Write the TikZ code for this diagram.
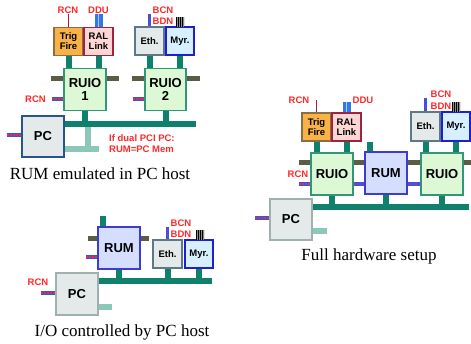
\documentclass[tikz,border=0pt]{standalone}
\usepackage{fontspec}
\setmainfont{Liberation Serif}
\newfontfamily\lsans{Liberation Sans}
\usetikzlibrary{shadows}
\pgfdeclarelayer{bg}
\pgfsetlayers{bg,main}
\definecolor{busc}{RGB}{14,128,108}
\definecolor{oliv}{RGB}{92,92,68}
\definecolor{labred}{RGB}{255,40,40}
\definecolor{darkred}{RGB}{170,30,45}
\definecolor{serblue}{RGB}{45,85,240}
\definecolor{ddublue}{RGB}{50,120,235}
\definecolor{fadec}{RGB}{140,200,185}
\definecolor{ruiofill}{RGB}{220,248,212}
\definecolor{ruiodraw}{RGB}{50,150,120}
\definecolor{trigfill}{RGB}{248,178,70}
\definecolor{trigdraw}{RGB}{140,110,70}
\definecolor{ralfill}{RGB}{255,214,214}
\definecolor{raldraw}{RGB}{160,35,60}
\definecolor{ethfill}{RGB}{228,234,234}
\definecolor{ethdraw}{RGB}{95,120,135}
\definecolor{myrfill}{RGB}{214,240,255}
\definecolor{myrdraw}{RGB}{30,30,210}
\definecolor{rumfill}{RGB}{214,222,255}
\definecolor{rumdraw}{RGB}{60,60,210}
\definecolor{pcfill}{RGB}{228,234,234}
\definecolor{pcdraw}{RGB}{40,85,140}
\definecolor{pcgdraw}{RGB}{160,176,176}
\tikzset{
  box/.style={draw, line width=1.3pt, inner sep=0pt, align=center,
    drop shadow={shadow xshift=0.8pt, shadow yshift=-0.8pt, opacity=0.35, fill=black!70}},
  big/.style={box, minimum width=42pt, minimum height=42pt,
    font=\lsans\bfseries\fontsize{13}{13}\selectfont},
  small/.style={box, minimum width=29pt, minimum height=28pt,
    font=\lsans\bfseries\fontsize{9.5}{10}\selectfont},
  ruiobox/.style={big, fill=ruiofill, draw=ruiodraw},
  rumbox/.style={big, fill=rumfill, draw=rumdraw},
  pcbox/.style={big, fill=pcfill, draw=pcdraw},
  pcgbox/.style={big, fill=pcfill, draw=pcgdraw},
  trigbox/.style={small, fill=trigfill, draw=trigdraw},
  ralbox/.style={small, fill=ralfill, draw=raldraw},
  ethbox/.style={small, fill=ethfill, draw=ethdraw},
  myrbox/.style={small, fill=myrfill, draw=myrdraw},
  lbl/.style={text=labred, inner sep=0pt, font=\lsans\bfseries\fontsize{9.5}{11}\selectfont},
  capt/.style={inner sep=0pt, font=\fontsize{17}{20}\selectfont},
  conn/.style={draw=busc, line width=6pt},
  olbar/.style={draw=oliv, line width=5pt},
  faded/.style={draw=fadec, line width=6pt},
  serial/.style={draw=serblue, line width=3.5pt,
    postaction={draw=labred, line width=1.8pt, dash pattern=on 1.6pt off 1.4pt}},
  rcnwire/.style={draw=darkred, line width=1pt},
  ddu/.style={draw=ddublue, line width=8pt,
    postaction={draw=ddublue!40, line width=1pt}},
  stripes/.style={draw=black, line width=10pt, dash pattern=on 1.1pt off 0.9pt,
    preaction={draw=black!45, line width=10pt}},
}
\begin{document}
\begin{tikzpicture}[x=1pt,y=-1pt]
\useasboundingbox (0,0) rectangle (471,343);

% ================= Panel 1: RUM emulated in PC host =================
\node[trigbox] (trig1) at (68.5,41.5) {Trig\\Fire};
\node[ralbox]  (ral1)  at (98.5,41.5) {RAL\\Link};
\node[ethbox]  (eth1)  at (149.5,41) {Eth.};
\node[myrbox, minimum width=28pt] (myr1) at (180,41) {Myr.};
\node[ruiobox] (ruio1) at (85,89.5) {RUIO\\1};
\node[ruiobox, minimum width=41pt] (ruio2) at (165.5,89.5) {RUIO\\2};
\node[pcbox, minimum height=41pt] (pc1) at (43,136.5) {PC};

\begin{pgfonlayer}{bg}
  \coordinate (o1a) at (51,78);  \coordinate (o1b) at (119,78);
  \coordinate (o1c) at (132,78); \coordinate (o1d) at (200,78);
  \draw[olbar] (o1a) -- (o1b);
  \draw[olbar] (o1c) -- (o1d);
\end{pgfonlayer}

\node[lbl] (rcn1t) at (68,10) {RCN};
\node[lbl] (ddu1)  at (98.5,10) {DDU};
\node[lbl] (bcn1)  at (163,10) {BCN};
\node[lbl] (bdn1)  at (163,21) {BDN};
\node[lbl] (rcn1s) at (35.5,99) {RCN};

\draw[rcnwire] (rcn1t.south -| trig1.north) -- (trig1.north);
\coordinate (ddu1e) at (98.5,14);
\draw[ddu] (ral1.north) -- (ddu1e);
\coordinate (bcn1e) at (149.5,14);
\draw[serial] (eth1.north) -- (bcn1e);
\coordinate (str1) at (180,22);
\draw[stripes] ([xshift=-4pt]str1) -- ([xshift=4pt]str1);

\draw[conn] (trig1.south) -- (trig1.south |- ruio1.north);
\draw[conn] (ral1.south) -- (ral1.south |- ruio1.north);
\draw[conn] (eth1.south) -- (eth1.south |- ruio2.north);
\draw[conn] (myr1.south) -- (myr1.south |- ruio2.north);

\coordinate (ser1) at (52,99);
\draw[serial] (ser1) -- (ser1 -| ruio1.west);
\coordinate (ser2) at (133,99);
\draw[serial] (ser2) -- (ser2 -| ruio2.west);
\coordinate (ser3) at (7,135);
\draw[serial] (ser3) -- (ser3 -| pc1.west);

\coordinate (bus1e) at (196,124);
\draw[conn] (bus1e -| pc1.east) -- (bus1e);
\draw[conn] (ruio1.south) -- (ruio1.south |- bus1e);
\draw[conn] (ruio2.south) -- (ruio2.south |- bus1e);

\coordinate (f1a) at (87.5,127); \coordinate (f1b) at (87.5,149);
\coordinate (f1c) at (65,149);   \coordinate (f1d) at (99,149);
\draw[faded] (f1a) -- (f1b);
\draw[faded] (f1c) -- (f1d);

\node[lbl, anchor=west, align=left] (note1) at (109,143.5) {If dual PCI PC:\\RUM=PC Mem};
\node[capt] (cap1) at (100,174) {RUM emulated in PC host};

% ================= Panel 2: Full hardware setup =================
\node[trigbox] (trig2) at (316.5,127) {Trig\\Fire};
\node[ralbox]  (ral2)  at (346.5,127) {RAL\\Link};
\node[ethbox, minimum height=29pt] (eth2) at (425.5,126.5) {Eth.};
\node[myrbox, minimum width=28pt, minimum height=29pt] (myr2) at (456,126.5) {Myr.};
\node[ruiobox] (ruioA) at (332,174) {RUIO};
\node[rumbox]  (rum2)  at (386,173) {RUM};
\node[ruiobox] (ruioB) at (442,174) {RUIO};
\node[pcgbox, minimum height=41pt] (pc2) at (291,219.5) {PC};

\begin{pgfonlayer}{bg}
  \coordinate (o2a) at (299,162.5); \coordinate (o2b) at (471,162.5);
  \draw[olbar] (o2a) -- (o2b);
\end{pgfonlayer}

\node[lbl] (rcn2t) at (299,100.5) {RCN};
\node[lbl] (ddu2)  at (363,100.5) {DDU};
\node[lbl] (bcn2)  at (441,94) {BCN};
\node[lbl] (bdn2)  at (441,106) {BDN};
\node[lbl] (rcn2s) at (298,174) {RCN};

\coordinate (rcn2e) at (316.5,100);
\draw[rcnwire] (trig2.north) -- (rcn2e);
\coordinate (ddu2e) at (346.5,102);
\draw[ddu] (ral2.north) -- (ddu2e);
\coordinate (bcn2e) at (425.5,98);
\draw[serial] (eth2.north) -- (bcn2e);
\coordinate (str2) at (456,107);
\draw[stripes] ([xshift=-4pt]str2) -- ([xshift=4pt]str2);

\draw[conn] (trig2.south) -- (trig2.south |- ruioA.north);
\draw[conn] (ral2.south) -- (ral2.south |- ruioA.north);
\draw[conn] (eth2.south) -- (eth2.south |- ruioB.north);
\draw[conn] (myr2.south) -- (myr2.south |- ruioB.north);
\coordinate (st2) at (370,142);
\draw[conn] (st2 |- rum2.north) -- (st2);

\coordinate (ser4) at (299,184);
\draw[serial] (ser4) -- (ser4 -| ruioA.west);
\draw[serial] (ser4 -| ruioA.east) -- (ser4 -| rum2.west);
\draw[serial] (ser4 -| rum2.east) -- (ser4 -| ruioB.west);
\coordinate (ser5) at (255,218);
\draw[serial] (ser5) -- (ser5 -| pc2.west);

\coordinate (bus2e) at (469,207);
\draw[conn] (bus2e -| pc2.east) -- (bus2e);
\draw[conn] (ruioA.south) -- (ruioA.south |- bus2e);
\draw[conn] (rum2.south) -- (rum2.south |- bus2e);
\draw[conn] (ruioB.south) -- (ruioB.south |- bus2e);

\coordinate (f2) at (327,231);
\draw[faded] (f2 -| pc2.east) -- (f2);

\node[capt] (cap2) at (369,256) {Full hardware setup};

% ================= Panel 3: I/O controlled by PC host =================
\node[rumbox] (rum3) at (119,248) {RUM};
\node[ethbox] (eth3) at (167.5,254) {Eth.};
\node[myrbox, minimum width=28pt] (myr3) at (199,254) {Myr.};
\node[pcgbox] (pc3) at (77,294) {PC};

\begin{pgfonlayer}{bg}
  \coordinate (o3a) at (88,238); \coordinate (o3b) at (149,238);
  \draw[olbar] (o3a) -- (o3b);
\end{pgfonlayer}

\node[lbl] (bcn3)  at (181,223) {BCN};
\node[lbl] (bdn3)  at (181,234) {BDN};
\node[lbl] (rcn3s) at (38,282) {RCN};

\coordinate (bcn3e) at (167.5,227);
\draw[serial] (eth3.north) -- (bcn3e);
\coordinate (str3) at (199.5,234.5);
\draw[stripes] ([xshift=-4pt]str3) -- ([xshift=4pt]str3);

\coordinate (st3) at (103,216);
\draw[conn] (st3 |- rum3.north) -- (st3);

\coordinate (ser6) at (86,257);
\draw[serial] (ser6) -- (ser6 -| rum3.west);
\coordinate (ser7) at (41,293);
\draw[serial] (ser7) -- (ser7 -| pc3.west);

\coordinate (bus3e) at (212,281);
\draw[conn] (bus3e -| pc3.east) -- (bus3e);
\draw[conn] (rum3.south) -- (rum3.south |- bus3e);
\draw[conn] (eth3.south) -- (eth3.south |- bus3e);
\draw[conn] (myr3.south) -- (myr3.south |- bus3e);

\coordinate (f3) at (112,306.5);
\draw[faded] (f3 -| pc3.east) -- (f3);

\node[capt] (cap3) at (122,332) {I/O controlled by PC host};
\end{tikzpicture}
\end{document}
